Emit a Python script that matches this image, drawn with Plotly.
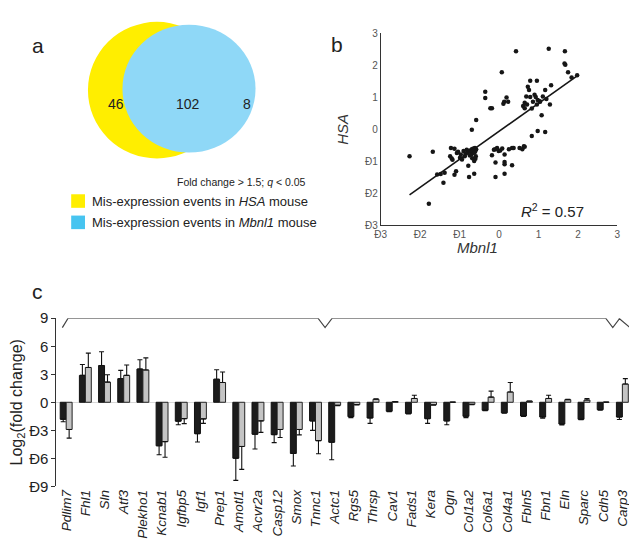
import plotly.graph_objects as go

# ---------------- Panel a: Venn data ----------------
venn_counts = [46, 102, 8]          # HSA only, both, Mbnl1 only
legend_labels = ["Mis-expression events in <i>HSA</i> mouse",
                 "Mis-expression events in <i>Mbnl1</i> mouse"]

# ---------------- Panel b: scatter data ----------------
mbnl1_x = [-2.27, -1.78, -1.68, -1.57, -1.48, -1.38, -1.41, -1.22, -1.13, -1.24,
           -1.20, -1.18, -1.09, -1.13, -0.97, -0.99, -1.07, -1.04, -0.90, -0.87,
           -0.82, -0.78, -0.76, -0.69, -0.58, -0.80, -0.76, -0.73, -0.71, -0.69,
           -0.67, -0.65, -0.63, -0.61, -0.60, -0.66, -0.70, -0.74, -0.62, -0.58,
           -0.63, -0.63, -0.59, -0.60, -0.85, -0.94, -0.68, -0.35, -0.35, -0.22,
           -0.18, 0.07, 0.11, 0.13, 0.19, 0.23, 0.43, 1.26, 1.67, 1.66,
           1.68, 1.75, 1.84, 1.98, 0.79, 0.96, 0.73, 0.76, 1.32, 1.17,
           0.69, 0.79, 0.90, 0.93, 1.11, 0.65, 0.86, 1.03, 0.61, 0.65,
           0.83, 0.96, 1.04, 1.29, 1.08, 0.98, 1.17, 0.83, 0.65, 0.59,
           0.33, 0.37, 0.25, 0.08, -0.05, -0.10, -0.01, -0.13, -0.18, -0.09,
           -0.09, 0.14, 0.14, 0.14, 0.14, 0.33, 0.52, 0.63, 0.03, 0.71,
           1.20, 0.98]
hsa_y = [-0.84, -2.33, -0.70, -1.41, -1.40, -1.36, -1.67, -0.58, -0.61, -0.84,
         -0.91, -0.95, -1.31, -1.42, -0.79, -0.89, -0.74, -0.70, -0.68, -0.84,
         -0.64, -1.14, -1.49, -0.01, 0.29, -0.72, -0.68, -0.66, -0.70, -0.62,
         -0.67, -0.60, -0.64, -0.58, -0.68, -0.74, -0.78, -0.82, -0.72, -0.62,
         -1.39, -0.99, -0.84, -0.92, -0.76, -0.94, -0.90, 1.18, 0.98, 0.66,
         0.66, 1.79, 0.80, 0.86, 1.00, 0.86, 2.44, 2.52, 2.44, 2.06,
         2.02, 1.79, 1.62, 1.69, 1.52, 1.52, 1.33, 1.23, 1.38, 1.23,
         1.03, 1.01, 1.08, 1.01, 1.03, 0.83, 0.86, 0.88, 0.73, 0.66,
         0.65, 0.78, 0.86, 0.78, 0.44, -0.05, -0.08, -0.21, -0.54, -0.62,
         -0.58, -0.58, -0.62, -0.60, -0.58, -0.62, -0.68, -0.64, -0.81, -1.04,
         -1.49, -0.79, -1.02, -1.09, -1.39, -1.12, -0.58, -0.53, -0.66, 0.78,
         0.95, 0.92]
fit_x = [-2.27, 2.00]
fit_y = [-2.05, 1.69]
axis_b_vals = [-3, -2, -1, 0, 1, 2, 3]
axis_b_text = ["Ð3", "Ð2", "Ð1", "0", "1", "2", "3"]
r2_text = "<i>R</i><sup>2</sup> = 0.57"

# ---------------- Panel c: bar data ----------------
genes = ["Pdlim7", "Fhl1", "Sln", "Atf3", "Plekho1", "Kcnab1", "Igfbp5", "Igf1",
         "Prep1", "Amotl1", "Acvr2a", "Casp12", "Smox", "Tnnc1", "Actc1", "Rgs5",
         "Thrsp", "Cav1", "Fads1", "Kera", "Ogn", "Col1a2", "Col6a1", "Col4a1",
         "Fbln5", "Fbn1", "Eln", "Sparc", "Cdh5", "Carp3"]
hsa_fc = [-1.82, 2.88, 3.94, 2.53, 3.56, -4.66, -2.02, -3.36, 2.47, -5.99,
          -3.42, -3.46, -5.48, -1.99, -4.28, -1.54, -1.68, -0.96, -1.20, -1.75,
          -1.99, -1.50, -0.86, -1.13, -1.47, -1.58, -2.33, -1.82, -0.79, -1.58]
hsa_err = [0.27, 1.16, 1.47, 0.89, 0.99, 0.96, 0.38, 0.89, 1.02, 2.37,
           1.58, 0.86, 1.34, 1.02, 1.88, 0.10, 0.58, 0.05, 0.05, 0.51,
           0.41, 0.14, 0.05, 0.05, 0.05, 0.13, 0.10, 0.05, 0.05, 0.27]
mbnl1_fc = [-2.91, 3.73, 2.16, 2.88, 3.46, -4.21, -1.75, -1.78, 2.12, -4.73,
            -1.99, -2.91, -2.91, -4.11, -0.32, -0.25, 0.32, 0.07, 0.41, -0.27,
            0.02, -0.22, 0.55, 1.10, 0.12, 0.41, 0.28, 0.24, 0.02, 1.95]
mbnl1_err = [0.93, 1.54, 0.79, 1.12, 1.30, 1.68, 0.54, 0.48, 1.13, 2.46,
             1.23, 0.86, 0.58, 1.40, 0.05, 0.03, 0.05, 0.00, 0.34, 0.03,
             0.00, 0.03, 0.65, 1.02, 0.00, 0.34, 0.05, 0.17, 0.00, 0.58]
y_c_vals = [-9, -6, -3, 0, 3, 6, 9]
y_c_text = ["Ð9", "Ð6", "Ð3", "0", "3", "6", "9"]
groups = [("Both <i>HSA</i> and <i>Mbnl1</i>", 0, 13),
          ("<i>HSA</i>", 14, 28),
          ("<i>Mbnl1</i>", 29, 29)]

FONT = "Arial, Liberation Sans, Helvetica, sans-serif"
W, H = 637, 542

def px(x):
    return x / W

def py(y):
    return 1 - y / H

fig = go.Figure()

# ---- panel b traces ----
fig.add_trace(go.Scatter(x=mbnl1_x, y=hsa_y, mode="markers",
                         marker=dict(size=4.5, color="#161616"),
                         xaxis="x", yaxis="y", hoverinfo="skip"))
fig.add_trace(go.Scatter(x=fit_x, y=fit_y, mode="lines",
                         line=dict(color="#161616", width=1.6),
                         xaxis="x", yaxis="y", hoverinfo="skip"))

# ---- panel c traces ----
idx = list(range(len(genes)))

def err_dict(vals, errs):
    up = [e if v >= 0 else 0 for v, e in zip(vals, errs)]
    dn = [e if v < 0 else 0 for v, e in zip(vals, errs)]
    return dict(type="data", symmetric=False, array=up, arrayminus=dn,
                color="#111111", thickness=1.1, width=2.5)

fig.add_trace(go.Bar(x=idx, y=hsa_fc, error_y=err_dict(hsa_fc, hsa_err),
                     marker=dict(color="#1c1c1c", line=dict(color="#111111", width=1)),
                     xaxis="x2", yaxis="y2", hoverinfo="skip"))
fig.add_trace(go.Bar(x=idx, y=mbnl1_fc, error_y=err_dict(mbnl1_fc, mbnl1_err),
                     marker=dict(color="#c4c4c4", line=dict(color="#222222", width=1)),
                     xaxis="x2", yaxis="y2", hoverinfo="skip"))

# bracket over the groups
bx, by = [], []
n = len(genes)
bounds = [g[2] + 0.5 for g in groups[:-1]]
bx += [-0.2, 0.1]
by += [8, 9]
for b in bounds:
    bx += [b - 0.37, b, b + 0.37]
    by += [9, 8, 9]
bx += [n - 0.5 - 0.68, n - 0.6]
by += [9, 8]
fig.add_trace(go.Scatter(x=bx, y=by, mode="lines",
                         line=dict(color="#444444", width=1.2),
                         xaxis="x2", yaxis="y2", cliponaxis=False, hoverinfo="skip"))

annotations = []
shapes = []

# ---- panel a: Venn ----
shapes.append(dict(type="circle", xref="paper", yref="paper",
                   x0=px(75), x1=px(215), y0=py(146), y1=py(5),
                   fillcolor="#FFEE00", line=dict(width=0), layer="above"))
shapes.append(dict(type="circle", xref="paper", yref="paper",
                   x0=px(110), x1=px(245), y0=py(140), y1=py(8),
                   fillcolor="#8FD8F7", line=dict(width=0), layer="above"))
for val, xx in zip(venn_counts, [93, 162, 236]):
    annotations.append(dict(x=px(xx), y=py(80), xref="paper", yref="paper",
                            text=str(val), showarrow=False,
                            font=dict(size=14, color="#222222", family=FONT)))
annotations.append(dict(x=px(298), y=py(162), xref="paper", yref="paper",
                        text="Fold change > 1.5; <i>q</i> < 0.05", showarrow=False,
                        xanchor="right", font=dict(size=10.5, color="#222222", family=FONT)))
leg_colors = ["#FFEE00", "#47C4F0"]
for i, (lab, col) in enumerate(zip(legend_labels, leg_colors)):
    yc = 190 + 22 * i
    shapes.append(dict(type="rect", xref="paper", yref="paper",
                       x0=px(58), x1=px(72), y0=py(yc + 7), y1=py(yc - 7),
                       fillcolor=col, line=dict(width=0)))
    annotations.append(dict(x=px(77), y=py(yc), xref="paper", yref="paper",
                            text=lab, showarrow=False, xanchor="left",
                            font=dict(size=13, color="#222222", family=FONT)))

# panel letters
for letter, xx, yy in [("a", 16, 16), ("b", 328, 14), ("c", 16, 283)]:
    annotations.append(dict(x=px(xx), y=py(yy), xref="paper", yref="paper",
                            text=letter, showarrow=False,
                            font=dict(size=21, color="#222222", family=FONT)))

# panel b extras
annotations.append(dict(x=2.2, y=-2.55, xref="x", yref="y", text=r2_text,
                        showarrow=False, xanchor="right",
                        font=dict(size=15, color="#222222", family=FONT)))
annotations.append(dict(x=px(493), y=py(238), xref="paper", yref="paper",
                        text="<i>Mbnl1</i>", showarrow=False,
                        font=dict(size=15, color="#333333", family=FONT)))

# group labels for panel c
for (lab, a, b_), xx in zip(groups, [5.5, 20.5, 29.0]):
    annotations.append(dict(x=xx, y=11.55, xref="x2", yref="y2", text=lab,
                            showarrow=False,
                            font=dict(size=13, color="#222222", family=FONT)))

fig.update_layout(
    width=W, height=H,
    margin=dict(l=0, r=0, t=0, b=0),
    paper_bgcolor="white", plot_bgcolor="white",
    showlegend=False,
    barmode="group", bargap=0.38, bargroupgap=0,
    font=dict(family=FONT, color="#222222"),
    shapes=shapes, annotations=annotations,
    xaxis=dict(domain=[px(372), px(612)], range=[-3, 3], anchor="y",
               tickvals=axis_b_vals, ticktext=axis_b_text,
               showline=True, linecolor="#333333", linewidth=1,
               showgrid=False, zeroline=False, ticks="",
               tickfont=dict(size=10, color="#555555")),
    yaxis=dict(domain=[py(215), py(17)], range=[-3, 3], anchor="x",
               tickvals=axis_b_vals, ticktext=axis_b_text,
               showline=True, linecolor="#333333", linewidth=1,
               showgrid=False, zeroline=False, ticks="",
               tickfont=dict(size=10, color="#555555"),
               title=dict(text="<i>HSA</i>", standoff=12,
                          font=dict(size=15, color="#333333"))),
    xaxis2=dict(domain=[px(43), px(627)], range=[-0.51, 29.51], anchor="y2",
                tickvals=idx, ticktext=[f"<i>{g}</i>" for g in genes],
                tickangle=-90, showline=False, showgrid=False, zeroline=False,
                ticks="", tickfont=dict(size=13.5, color="#222222")),
    yaxis2=dict(domain=[py(484.5), py(311)], range=[-9, 9], anchor="x2",
                tickvals=y_c_vals, ticktext=y_c_text,
                showline=True, linecolor="#333333", linewidth=1,
                ticks="outside", ticklen=4, tickcolor="#333333",
                showgrid=False, zeroline=True, zerolinecolor="#d8d8d8", zerolinewidth=1,
                tickfont=dict(size=15, color="#222222"),
                title=dict(text="Log<sub>2</sub>(fold change)", standoff=4,
                           font=dict(size=16, color="#222222"))),
)

fig.write_html("out.html")
